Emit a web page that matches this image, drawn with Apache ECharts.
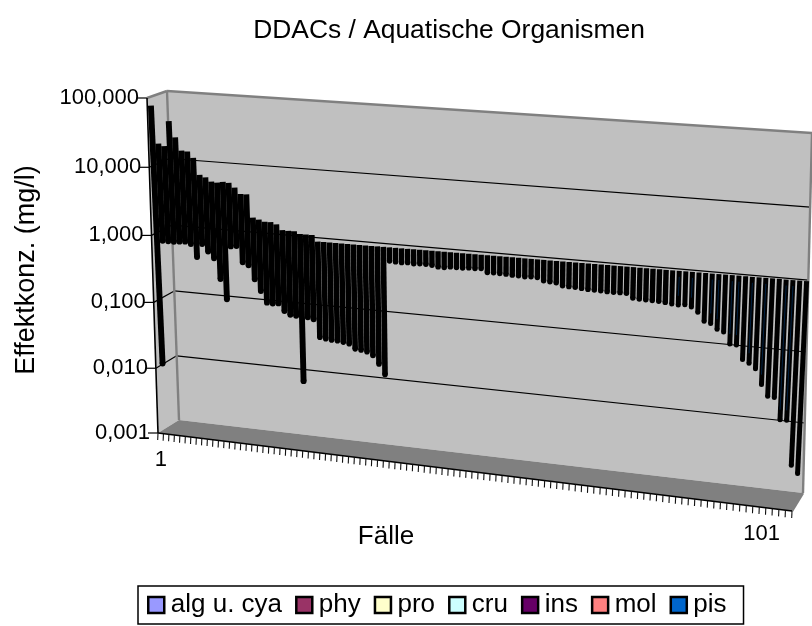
<!DOCTYPE html>
<html>
<head>
<meta charset="utf-8">
<style>html,body{margin:0;padding:0;background:#fff}#c{width:812px;height:626px}</style>
<script src="https://cdn.jsdelivr.net/npm/echarts@6/dist/echarts.min.js"></script>
</head>
<body>
<div id="c"></div>
<script>
const titleText = 'DDACs / Aquatische Organismen';
const yAxisName = 'Effektkonz. (mg/l)';
const xAxisName = 'Fälle';
const seriesNames = ['alg u. cya','phy','pro','cru','ins','mol','pis'];
const seriesColors = ['#9999FF','#993366','#FFFFCC','#CCFFFF','#660066','#FF8080','#0066CC'];
const yTickValues = [100,10,1,0.1,0.01,0.001];
const yTickLabels = ['100,000','10,000','1,000','0,100','0,010','0,001'];
const xLabelCases = [1,101];

const highValues = [
66,18.5,17.3,40.5,23.9,15.5,15.2,12.4,7.1,6.6,5.8,5.7,5.9,5.8,5.0,4.1,4.1,1.9,1.8,1.7,
1.7,1.6,1.34,1.33,1.33,1.23,1.23,1.23,1,1,1,1,1,1,1,1,1,1,1,1,
1,1,1,1,1,1,1,1,1,1,1,1,1,1,1,1,1,1,1,1,
1,1,1,1,1,1,1,1,1,1,1,1,1,1,1,1,1,1,1,1,
1,1,1,1,1,1,1,1,1,1,1,1,1,1,1,1,1,1,1,1,
1,1,1,1,1,1];
const lowValues = [
0.0076,0.6,0.6,0.6,0.61,0.62,0.58,0.375,0.6,0.47,0.38,0.188,0.094,0.6,0.62,0.36,0.33,0.207,0.14,0.095,
0.094,0.096,0.075,0.067,0.066,0.0068,0.065,0.062,0.034,0.033,0.032,0.032,0.031,0.03,0.0255,0.025,0.024,0.0215,0.0164,0.0116,
0.578,0.57,0.566,0.575,0.564,0.573,0.573,0.563,0.543,0.54,0.562,0.559,0.562,0.572,0.569,0.579,0.518,0.522,0.517,0.516,
0.508,0.505,0.498,0.507,0.503,0.46,0.453,0.447,0.41,0.407,0.405,0.398,0.392,0.392,0.387,0.384,0.383,0.385,0.384,0.334,
0.33,0.329,0.327,0.323,0.318,0.309,0.305,0.313,0.296,0.254,0.194,0.184,0.155,0.145,0.1,0.098,0.0624,0.0565,0.048,0.0292,
0.0203,0.02,0.0098,0.0098,0.00225,0.00175];
const pisCases = [87,89,92,93,95,96,98,100,103,104];

const cases = lowValues.map((_, i) => String(i + 1));

// frame layout of the pseudo-3D box (TL, TR, BR, BL)
const GRID = {left:100, top:100, width:600, height:300};
const QUAD_FRONT = [[147,98],[810,145],[792,511],[158,433]];
const QUAD_BACK  = [[167,91],[812,133],[803,493],[179,420]];
const QUAD_BARS  = [[147.5,93],[817,133],[800,493],[162.5,422]];
const FONT = '"Liberation Sans", Arial, sans-serif';

function homography(q){
  const [x0,y0]=q[0],[x1,y1]=q[1],[x2,y2]=q[2],[x3,y3]=q[3];
  const dx1=x1-x2,dx2=x3-x2,dx3=x0-x1+x2-x3,dy1=y1-y2,dy2=y3-y2,dy3=y0-y1+y2-y3;
  const det=dx1*dy2-dx2*dy1;
  const g=(dx3*dy2-dx2*dy3)/det,h=(dx1*dy3-dx3*dy1)/det;
  const a=x1-x0+g*x1,b=x3-x0+h*x3,d=y1-y0+g*y1,e=y3-y0+h*y3;
  return (u,v)=>{const w=g*u+h*v+1;return [(a*u+b*v+x0)/w,(d*u+e*v+y0)/w];};
}
const Hfront=homography(QUAD_FRONT),Hback=homography(QUAD_BACK),Hbars=homography(QUAD_BARS);
const norm=p=>[(p[0]-GRID.left)/GRID.width,(p[1]-GRID.top)/GRID.height];

function line(a,b,stroke,lineWidth){
  return {type:'line',shape:{x1:a[0],y1:a[1],x2:b[0],y2:b[1]},style:{stroke,lineWidth,fill:null}};
}
function poly(points,fill){
  return {type:'polygon',shape:{points},style:{fill,stroke:null}};
}

function renderFrame(params,api){
  const c=[];
  const GREY='#808080';
  c.push(poly(QUAD_BACK,'#C0C0C0'));
  c.push(poly([QUAD_FRONT[0],QUAD_BACK[0],QUAD_BACK[3],QUAD_FRONT[3]],'#C0C0C0'));
  c.push(poly([QUAD_FRONT[3],QUAD_BACK[3],QUAD_BACK[2],QUAD_FRONT[2]],GREY));
  yTickValues.forEach((val,k)=>{
    const v=norm(api.coord([0,val]))[1];
    const f=Hfront(0,v);
    if(k>0&&k<yTickValues.length-1){
      c.push(line(Hback(0,v),Hback(1,v),'#000',1.2));
      c.push(line(f,Hback(0,v),'#000',1.2));
    }
    c.push(line([f[0]-10,f[1]],f,'#000',1.2));
    c.push({type:'text',style:{text:yTickLabels[k],x:f[0]-8,y:f[1],align:'right',verticalAlign:'middle',font:'22px '+FONT,fill:'#000'}});
  });
  c.push(line(QUAD_FRONT[0],QUAD_BACK[0],GREY,2.4));
  c.push(line(QUAD_BACK[0],QUAD_BACK[1],GREY,2.4));
  c.push(line(QUAD_BACK[0],QUAD_BACK[3],GREY,2.4));
  c.push(line(QUAD_BACK[1],QUAD_BACK[2],GREY,2.4));
  c.push(line(QUAD_BACK[2],QUAD_FRONT[2],GREY,2.4));
  c.push(line(QUAD_FRONT[0],QUAD_FRONT[3],'#000',1.6));
  c.push(line(QUAD_FRONT[3],QUAD_FRONT[2],'#000',1.6));
  const bottom=api.coord([0,yTickValues[yTickValues.length-1]])[1];
  const vBottom=norm([0,bottom])[1];
  const N=cases.length;
  for(let i=0;i<=N;i++){
    const p=Hfront(i/N,vBottom);
    c.push(line(p,[p[0]-0.3,p[1]+7],'#111',1.1));
  }
  xLabelCases.forEach(cs=>{
    const u=norm(api.coord([cs-1,1]))[0];
    const p=Hfront(u,vBottom);
    c.push({type:'text',style:{text:String(cs),x:p[0]+u*6,y:p[1]+27,align:'center',verticalAlign:'middle',font:'22px '+FONT,fill:'#000'}});
  });
  return {type:'group',children:c};
}

function renderBar(params,api){
  const i=api.value(0);
  const a=norm(api.coord([i,api.value(1)]));
  const b=norm(api.coord([i,api.value(2)]));
  const p=Hbars(a[0],a[1]),q=Hbars(b[0],b[1]);
  const w=i<28?5.9:(i<40?5.6:(i<85?5.4:5.0));
  // low end is rounded: stop the bar short and cap it with a disc
  const len=Math.hypot(p[0]-q[0],p[1]-q[1]),t=(w/2)/len;
  const e=[p[0]+(q[0]-p[0])*t,p[1]+(q[1]-p[1])*t];
  const children=[
    line(e,q,'#000',w),
    {type:'circle',shape:{cx:e[0],cy:e[1],r:w/2},style:{fill:'#000',stroke:null}}
  ];
  if(params.seriesIndex===seriesNames.length){
    const inner=line([e[0],e[1]-Math.min(10,len/4)],[q[0],q[1]+6],'#0066CC',1);
    inner.style.opacity=0.32;
    children.push(inner);
  }
  return {type:'group',children};
}

const caseSeries=seriesNames.map(()=>[]);
lowValues.forEach((low,i)=>{
  const g=pisCases.includes(i+1)?6:0;
  caseSeries[g].push([i,low,highValues[i]]);
});

const chart=echarts.init(document.getElementById('c'),null,{renderer:'canvas',width:812,height:626});
chart.setOption({
  animation:false,
  backgroundColor:'#fff',
  title:{text:titleText,left:444,top:13,textAlign:'center',textStyle:{fontFamily:FONT,fontWeight:'normal',fontSize:26.4,color:'#000'}},
  grid:{left:GRID.left,top:GRID.top,width:GRID.width,height:GRID.height,containLabel:false},
  xAxis:{type:'category',data:cases,show:false},
  yAxis:{type:'log',logBase:10,min:0.001,max:100,show:false},
  legend:{
    data:seriesNames,left:138,top:586,orient:'horizontal',icon:'rect',
    itemWidth:16,itemHeight:16,itemGap:13,padding:[6,17,6,9],
    borderColor:'#000',borderWidth:1.5,backgroundColor:'#fff',
    itemStyle:{borderColor:'#000',borderWidth:2.5},
    selectedMode:false,
    textStyle:{fontFamily:FONT,fontSize:26,color:'#000',padding:[0,0,0,1.5]}
  },
  graphic:[
    {type:'text',x:27,y:270,rotation:Math.PI/2,style:{text:yAxisName,align:'center',verticalAlign:'middle',font:'27px '+FONT,fill:'#000'}},
    {type:'text',x:386,y:537,style:{text:xAxisName,align:'center',verticalAlign:'middle',font:'26px '+FONT,fill:'#000'}}
  ],
  series:[
    {type:'custom',name:'frame',coordinateSystem:'cartesian2d',z:1,silent:true,renderItem:renderFrame,data:[[0,1,1]],encode:{x:0,y:[1,2]}}
  ].concat(seriesNames.map((name,k)=>({
    type:'custom',name,coordinateSystem:'cartesian2d',z:2,renderItem:renderBar,
    itemStyle:{color:seriesColors[k]},
    encode:{x:0,y:[1,2]},data:caseSeries[k]
  })))
});
</script>
</body>
</html>
